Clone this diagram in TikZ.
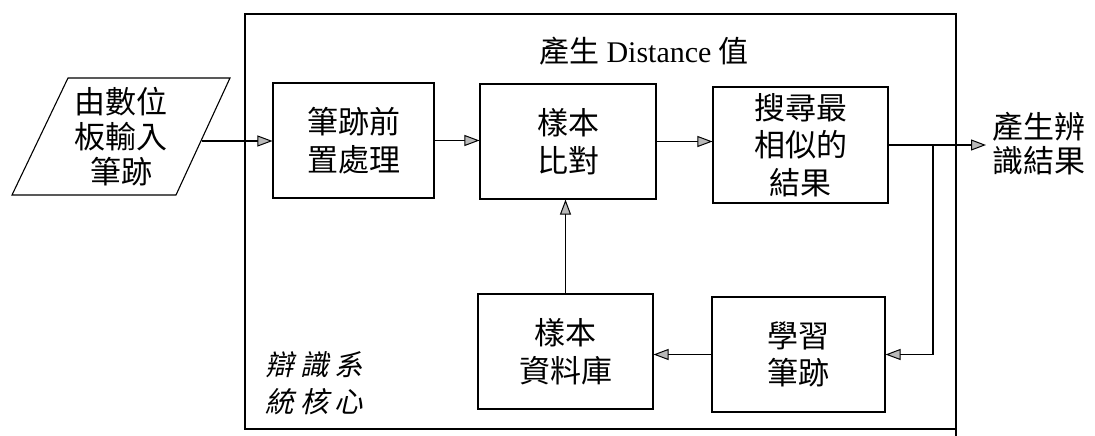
\documentclass[tikz,border=0pt]{standalone}
\usepackage{fontspec}
\setmainfont{Liberation Serif}
\newfontfamily\cjk{Noto Sans CJK TC}
\newfontfamily\cjkit[FakeSlant=0.22]{Noto Sans CJK TC}
\usetikzlibrary{arrows.meta}
\begin{document}
\begin{tikzpicture}[x=1pt,y=-1pt,line width=1.1pt,
  arr/.style={-{Triangle[length=15pt,width=11pt,fill=gray!55,line width=1pt]}},
  blk/.style={draw,inner sep=0pt,align=center,font=\cjk\fontsize{31}{37.5}\selectfont},
  txt/.style={inner sep=0pt,align=center,font=\cjk\fontsize{31}{35}\selectfont}]
\useasboundingbox (0,0) rectangle (1095,436);
% outer system box
\draw (245,14) rectangle (956,429);
\draw (956,429) -- (956,436);
\node[inner sep=0pt,font=\fontsize{30}{32}\selectfont] (title) at (644,51) {{\cjk 產生} Distance {\cjk 值}};
\node[inner sep=0pt,anchor=west,align=left,font=\cjkit\fontsize{28.5}{37}\selectfont] (core) at (265,383)
  {辯\hspace{6pt}識\hspace{6pt}系\\統\hspace{6pt}核\hspace{6pt}心};
% input parallelogram
\draw (68,78) -- (230,78) -- (176,195) -- (12,195) -- cycle;
\node[txt] (inp) at (121,137) {由數位\\板輸入\\筆跡};
\coordinate (inR) at (202,141);
% blocks
\node[blk,minimum width=161pt,minimum height=115pt] (b1) at (353.5,140.5) {筆跡前\\置處理};
\node[blk,minimum width=176pt,minimum height=115pt] (b2) at (568,141.5) {樣本\\比對};
\node[blk,minimum width=175pt,minimum height=116pt] (b3) at (800.5,145) {搜尋最\\相似的\\結果};
\node[blk,minimum width=175pt,minimum height=115pt] (db) at (565.5,351.5) {樣本\\資料庫};
\node[blk,minimum width=173pt,minimum height=115pt] (lr) at (798.5,354.5) {學習\\筆跡};
% result text
\node[txt,anchor=west,inner sep=6pt,font=\cjk\fontsize{31}{34}\selectfont] (res) at (986,144) {產生辨\\識結果};
\coordinate (br) at (933,0);
% connectors
\draw[arr] (inR) -- (inR -| b1.west);
\draw[arr] (b1.east) -- (b1.east -| b2.west);
\draw[arr] (b2.east) -- (b2.east -| b3.west);
\draw[arr] (b3.east) -- (b3.east -| res.west);
\draw[arr] (b3.east -| br) |- (lr.east);
\draw[arr] (lr.west) -- (lr.west -| db.east);
\draw[arr] (db.north) -- (db.north |- b2.south);
\end{tikzpicture}
\end{document}
